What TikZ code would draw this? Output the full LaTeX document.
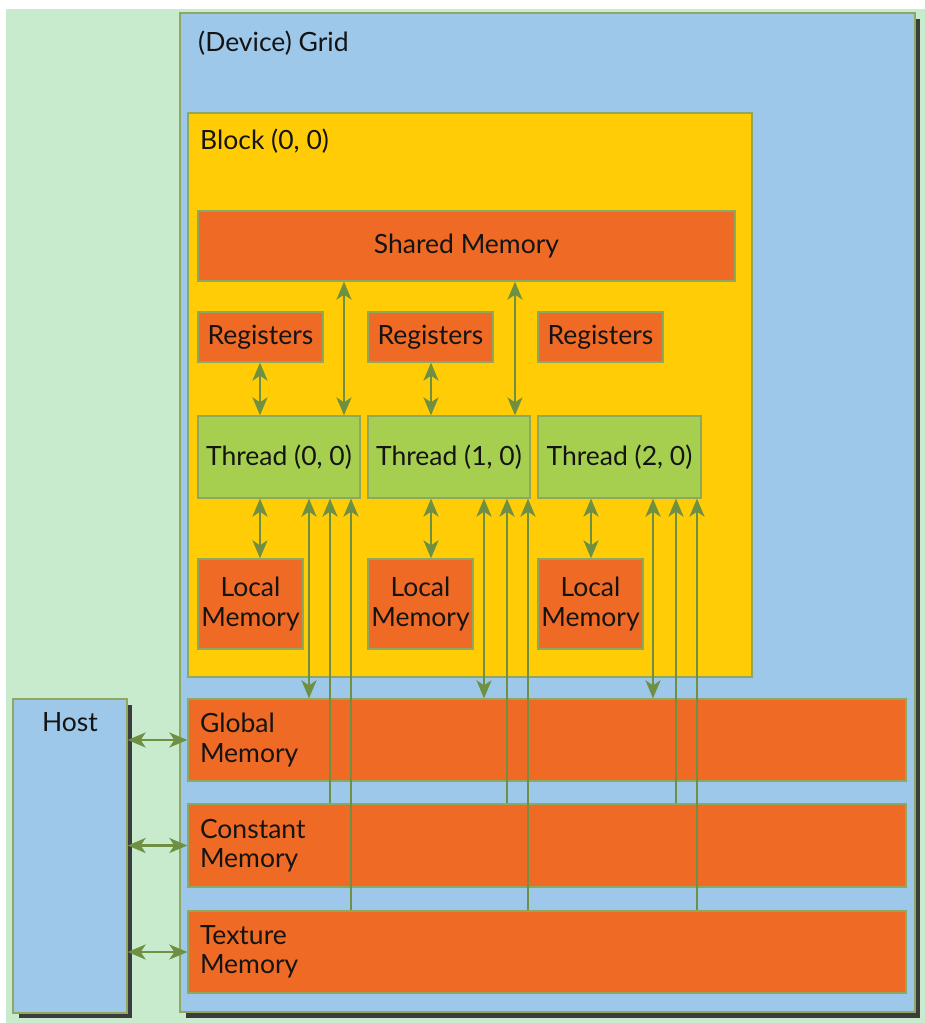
\documentclass[tikz,border=0pt]{standalone}
\usepackage{fontspec}
\setmainfont{Lato}
\usetikzlibrary{arrows.meta}
\definecolor{bggreen}{HTML}{C9EBCD}
\definecolor{gridblue}{HTML}{9DC8EA}
\definecolor{blockyellow}{HTML}{FFCC05}
\definecolor{memorange}{HTML}{EF6A25}
\definecolor{thgreen}{HTML}{A6CF50}
\definecolor{arrgreen}{HTML}{6F9043}
\definecolor{edgegreen}{HTML}{8FA860}
\definecolor{shadowgray}{HTML}{3C3C3C}
\definecolor{txt}{HTML}{141414}
\tikzset{
  base/.style={rectangle, draw=edgegreen, line width=1.3pt, inner sep=0pt, text=txt, font=\fontsize{26.5}{29.5}\selectfont},
  membox/.style={base, fill=memorange},
  thbox/.style={base, fill=thgreen},
  bigmem/.style={membox, align=left, text width=694pt, inner xsep=12pt, minimum width=718pt},
  lbl/.style={text=txt, font=\fontsize{26.5}{29.5}\selectfont, inner sep=0pt},
  arrline/.style={draw=arrgreen, line width=2.5pt},
  darr/.style={arrline, {Stealth[length=18pt,width=15pt,inset=5pt]}-{Stealth[length=18pt,width=15pt,inset=5pt]}},
  uarr/.style={arrline, -{Stealth[length=18pt,width=15pt,inset=5pt]}},
}
\begin{document}
\begin{tikzpicture}[x=1pt,y=-1pt]
\useasboundingbox (0,0) rectangle (925,1023);
\fill[white] (0,0) rectangle (925,1023);
\fill[bggreen] (6,9) rectangle (925,1023);
% grid
\fill[shadowgray] (186,19) rectangle (920,1018);
\node[base, fill=gridblue, minimum width=735pt, minimum height=999pt] (grid) at (547.5,512.5) {};
\node[lbl, anchor=west] (gridlbl) at (198,43) {(Device) Grid};
% host
\fill[shadowgray] (19,705) rectangle (132,1018);
\node[base, fill=gridblue, minimum width=114pt, minimum height=314pt] (host) at (70,856) {};
\node[lbl] (hostlbl) at (70,722) {Host};
% block
\node[base, fill=blockyellow, minimum width=564pt, minimum height=564pt] (block) at (470,395) {};
\node[lbl, anchor=west] (blocklbl) at (200,141) {Block (0, 0)};
% shared
\node[membox, minimum width=537pt, minimum height=70pt] (shared) at (466.5,246) {Shared Memory};
% registers
\node[membox, minimum width=125pt, minimum height=50pt] (reg0) at (260.5,337) {Registers};
\node[membox, minimum width=125pt, minimum height=50pt] (reg1) at (430.5,337) {Registers};
\node[membox, minimum width=125pt, minimum height=50pt] (reg2) at (600.5,337) {Registers};
% threads
\node[thbox, minimum width=162pt, minimum height=82pt] (th0) at (279,457) {Thread (0, 0)};
\node[thbox, minimum width=162pt, minimum height=82pt] (th1) at (449,457) {Thread (1, 0)};
\node[thbox, minimum width=163pt, minimum height=82pt] (th2) at (619.5,457) {Thread (2, 0)};
% local memory
\node[membox, align=center, minimum width=105pt, minimum height=90pt] (lm0) at (250.5,604) {Local\\Memory};
\node[membox, align=center, minimum width=105pt, minimum height=90pt] (lm1) at (420.5,604) {Local\\Memory};
\node[membox, align=center, minimum width=105pt, minimum height=90pt] (lm2) at (590.5,604) {Local\\Memory};
% big memories
\node[bigmem, minimum height=82pt] (glob) at (547,740) {Global\\Memory};
\node[bigmem, minimum height=83pt] (const) at (547,845.5) {Constant\\Memory};
\node[bigmem, minimum height=82pt] (tex) at (547,952) {Texture\\Memory};
% x positions of connectors
\coordinate (rA) at (260,0);
\coordinate (rB) at (431,0);
\coordinate (sA) at (344,0);
\coordinate (sB) at (515,0);
\coordinate (lA) at (260,0);
\coordinate (lB) at (431,0);
\coordinate (lC) at (591,0);
\coordinate (gA) at (309,0);
\coordinate (gB) at (484,0);
\coordinate (gC) at (653,0);
\coordinate (cA) at (330,0);
\coordinate (cB) at (507,0);
\coordinate (cC) at (676,0);
\coordinate (tA) at (351,0);
\coordinate (tB) at (528,0);
\coordinate (tC) at (697,0);
% registers <-> threads
\draw[darr] (reg0.south -| rA) -- (th0.north -| rA);
\draw[darr] (reg1.south -| rB) -- (th1.north -| rB);
% shared <-> threads
\draw[darr] (shared.south -| sA) -- (th0.north -| sA);
\draw[darr] (shared.south -| sB) -- (th1.north -| sB);
% threads <-> local
\draw[darr] (th0.south -| lA) -- (lm0.north -| lA);
\draw[darr] (th1.south -| lB) -- (lm1.north -| lB);
\draw[darr] (th2.south -| lC) -- (lm2.north -| lC);
% threads <-> global
\draw[darr] (th0.south -| gA) -- (glob.north -| gA);
\draw[darr] (th1.south -| gB) -- (glob.north -| gB);
\draw[darr] (th2.south -| gC) -- (glob.north -| gC);
% constant -> threads
\draw[uarr] (const.north -| cA) -- (th0.south -| cA);
\draw[uarr] (const.north -| cB) -- (th1.south -| cB);
\draw[uarr] (const.north -| cC) -- (th2.south -| cC);
% texture -> threads
\draw[uarr] (tex.north -| tA) -- (th0.south -| tA);
\draw[uarr] (tex.north -| tB) -- (th1.south -| tB);
\draw[uarr] (tex.north -| tC) -- (th2.south -| tC);
% host <-> memories
\draw[darr] (host.east |- glob.west) -- (glob.west);
\draw[darr] (host.east |- const.west) -- (const.west);
\draw[darr] (host.east |- tex.west) -- (tex.west);
\end{tikzpicture}
\end{document}
